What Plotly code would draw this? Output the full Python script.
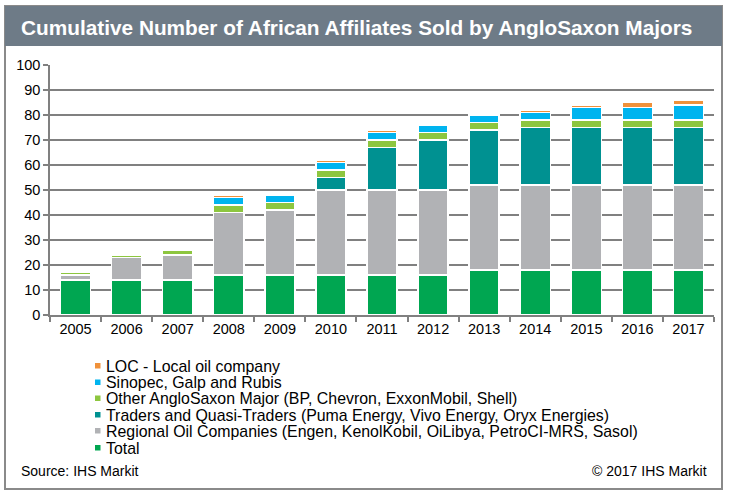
import plotly.graph_objects as go

years = ["2005", "2006", "2007", "2008", "2009", "2010", "2011", "2012", "2013", "2014", "2015", "2016", "2017"]
total = [14, 14, 14, 16, 16, 16, 16, 16, 18, 18, 18, 18, 18]
regional = [2, 9, 10, 25, 26, 34, 34, 34, 34, 34, 34, 34, 34]
traders = [0, 0, 0, 0, 0, 5, 17, 20, 22, 23, 23, 23, 23]
other_anglo = [1, 1, 2, 3, 3, 3, 3, 3, 3, 3, 3, 3, 3]
sinopec = [0, 0, 0, 3, 3, 3, 3, 3, 3, 3, 5, 5, 6]
loc = [0, 0, 0, 1, 0, 1, 1, 0, 0, 1, 1, 2, 2]

series_names = [
    "Total",
    "Regional Oil Companies (Engen, KenolKobil, OiLibya, PetroCI-MRS, Sasol)",
    "Traders and Quasi-Traders (Puma Energy, Vivo Energy, Oryx Energies)",
    "Other AngloSaxon Major (BP, Chevron, ExxonMobil, Shell)",
    "Sinopec, Galp and Rubis",
    "LOC - Local oil company",
]
series_values = [total, regional, traders, other_anglo, sinopec, loc]
series_colors = ["#00a651", "#b1b2b5", "#009191", "#8dc63f", "#00b4ef", "#f0913a"]

title_text = "Cumulative Number of African Affiliates Sold by AngloSaxon Majors"
source_text = "Source: IHS Markit"
copyright_text = "© 2017 IHS Markit"

W_PX, H_PX = 729, 501
L, R, T, B = 50, 714, 65, 315


def px(x):
    return (x - L) / (R - L)


def py(y):
    return (B - y) / (B - T)


fig = go.Figure()
for name, vals, col in zip(series_names, series_values, series_colors):
    fig.add_trace(go.Bar(
        x=years, y=vals, name=name,
        marker=dict(color=col, line=dict(color="white", width=1.5)),
        showlegend=False,
    ))

FONT = "Liberation Sans, Arial, sans-serif"

shapes = []
annotations = []
# outer frame
shapes.append(dict(type="rect", xref="paper", yref="paper",
                   x0=px(5), x1=px(722), y0=py(6), y1=py(489),
                   line=dict(color="#8a8a8a", width=2), fillcolor="rgba(0,0,0,0)", layer="below"))
# title bar
shapes.append(dict(type="rect", xref="paper", yref="paper",
                   x0=px(5), x1=px(722), y0=py(6), y1=py(46),
                   line=dict(width=0), fillcolor="#6e7b87", layer="above"))
annotations.append(dict(text="<b>" + title_text + "</b>", xref="paper", yref="paper",
                        x=px(19), y=py(27), xanchor="left", yanchor="middle",
                        showarrow=False, font=dict(family=FONT, size=20.8, color="white")))

# legend (manual, top item = last series)
row_y = [366, 382.5, 398.5, 415, 431, 448]
for i, (name, col) in enumerate(zip(reversed(series_names), reversed(series_colors))):
    yc = row_y[i]
    shapes.append(dict(type="rect", xref="paper", yref="paper",
                       x0=px(95), x1=px(100.5), y0=py(yc - 3), y1=py(yc + 2.5),
                       line=dict(width=0), fillcolor=col))
    annotations.append(dict(text=name, xref="paper", yref="paper",
                            x=px(103.5), y=py(yc), xanchor="left", yanchor="middle",
                            showarrow=False, font=dict(family=FONT, size=15.9, color="black")))

annotations.append(dict(text=source_text, xref="paper", yref="paper",
                        x=px(19), y=py(471), xanchor="left", yanchor="middle",
                        showarrow=False, font=dict(family=FONT, size=14, color="black")))
annotations.append(dict(text=copyright_text, xref="paper", yref="paper",
                        x=px(709), y=py(471), xanchor="right", yanchor="middle",
                        showarrow=False, font=dict(family=FONT, size=14, color="black")))

fig.update_layout(
    width=W_PX, height=H_PX,
    margin=dict(l=L, r=W_PX - R, t=T, b=H_PX - B, pad=0),
    barmode="stack", bargap=0.41,
    paper_bgcolor="white", plot_bgcolor="white",
    font=dict(family=FONT, size=14.5, color="black"),
    showlegend=False,
    shapes=shapes, annotations=annotations,
    xaxis=dict(type="category", showline=True, linecolor="#808080", linewidth=1.5,
               ticks="outside", tickson="boundaries", ticklen=5, tickcolor="#808080",
               tickwidth=1.5, showgrid=False,
               tickfont=dict(family=FONT, size=14.5, color="black")),
    yaxis=dict(range=[0, 100], dtick=10, showline=True, linecolor="#808080", linewidth=1.5,
               ticks="outside", ticklen=5, tickcolor="#808080", tickwidth=1.5,
               showgrid=True, gridcolor="#808080", gridwidth=1.5, zeroline=False,
               tickfont=dict(family=FONT, size=14.5, color="black")),
)

fig.write_html(
    "out.html",
    config={"displayModeBar": False},
    post_script="document.body.style.margin='0';document.body.style.padding='0';"
                "document.documentElement.style.overflow='hidden';",
)
